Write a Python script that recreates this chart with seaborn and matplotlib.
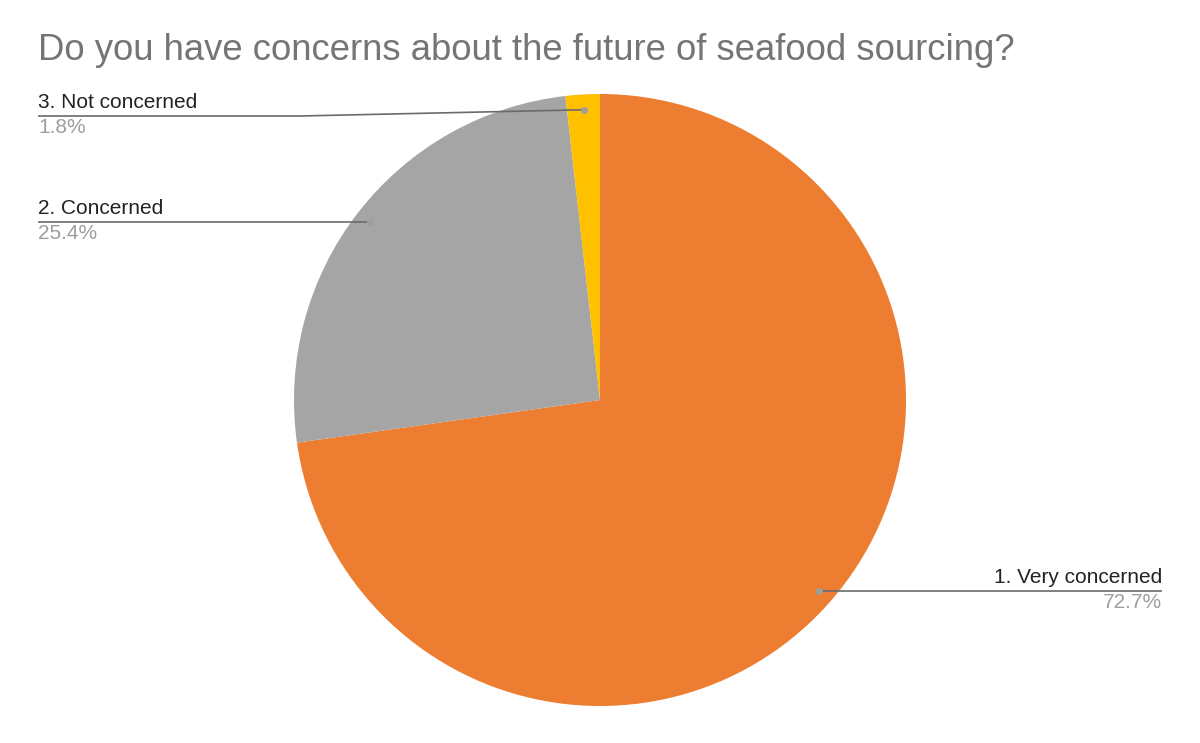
import numpy as np
import matplotlib
matplotlib.use("Agg")
import matplotlib.pyplot as plt
import seaborn as sns

# dane z wykresu
kategorie = ["1. Very concerned", "2. Concerned", "3. Not concerned"]
udzialy = [72.7, 25.4, 1.8]
kolory = ["#ED7D31", "#A5A5A5", "#FFC000"]
tytul = "Do you have concerns about the future of seafood sourcing?"

sns.set_theme(style="white")
plt.rcParams['font.family'] = ['Liberation Sans', 'DejaVu Sans']

fig = plt.figure(figsize=(12, 7.43), dpi=100)
ax = fig.add_axes([0, 0, 1, 1])

R = 306.0
cx, cy = 600.0, 400.0

def px(x, y):
    # piksele -> wspolrzedne danych
    return (x - cx) / R, (cy - y) / R

wedges, _ = ax.pie(udzialy, colors=kolory, startangle=90, counterclock=False,
                   radius=1.0, wedgeprops=dict(linewidth=0))

ax.set_xlim(-cx / R, (1200 - cx) / R)
ax.set_ylim(-(743 - cy) / R, cy / R)
ax.set_aspect('equal')
ax.axis('off')

# punkty zaczepienia etykiet na srodku klinow
kat = []
start = 90.0
for u in udzialy:
    span = u / sum(udzialy) * 360
    kat.append(np.deg2rad(start - span / 2))
    start -= span
kotwice = [(0.95 * np.cos(a), 0.95 * np.sin(a)) for a in kat]

# koniec linii (piksele x, None = wysokosc kotwicy)
linie = [
    [(1162, None)],
    [(38, None)],
    [(300, 116), (38, 116)],
]
wyrownanie = ['right', 'left', 'left']

for i, (kx, ky) in enumerate(kotwice):
    pts = [(kx, ky)]
    for x, y in linie[i]:
        if y is None:
            pts.append(((x - cx) / R, ky))
        else:
            pts.append(px(x, y))
    xs, ys = zip(*pts)
    ax.plot(xs, ys, color='#6b6b6b', linewidth=1.2, solid_capstyle='butt')
    ax.plot(kx, ky, 'o', color='#9e9e9e', markersize=4)
    tx, ty = pts[-1]
    ax.text(tx, ty + 4 / R, kategorie[i], ha=wyrownanie[i], va='bottom',
            fontsize=15, color='#222222')
    ax.text(tx, ty - 2 / R, f"{udzialy[i]}%", ha=wyrownanie[i], va='top',
            fontsize=15, color='#9e9e9e')

fig.text(38 / 1200, 1 - 51 / 743, tytul, ha='left', va='center',
         fontsize=26.3, color='#757575')

fig.savefig("out.png", dpi=100)
